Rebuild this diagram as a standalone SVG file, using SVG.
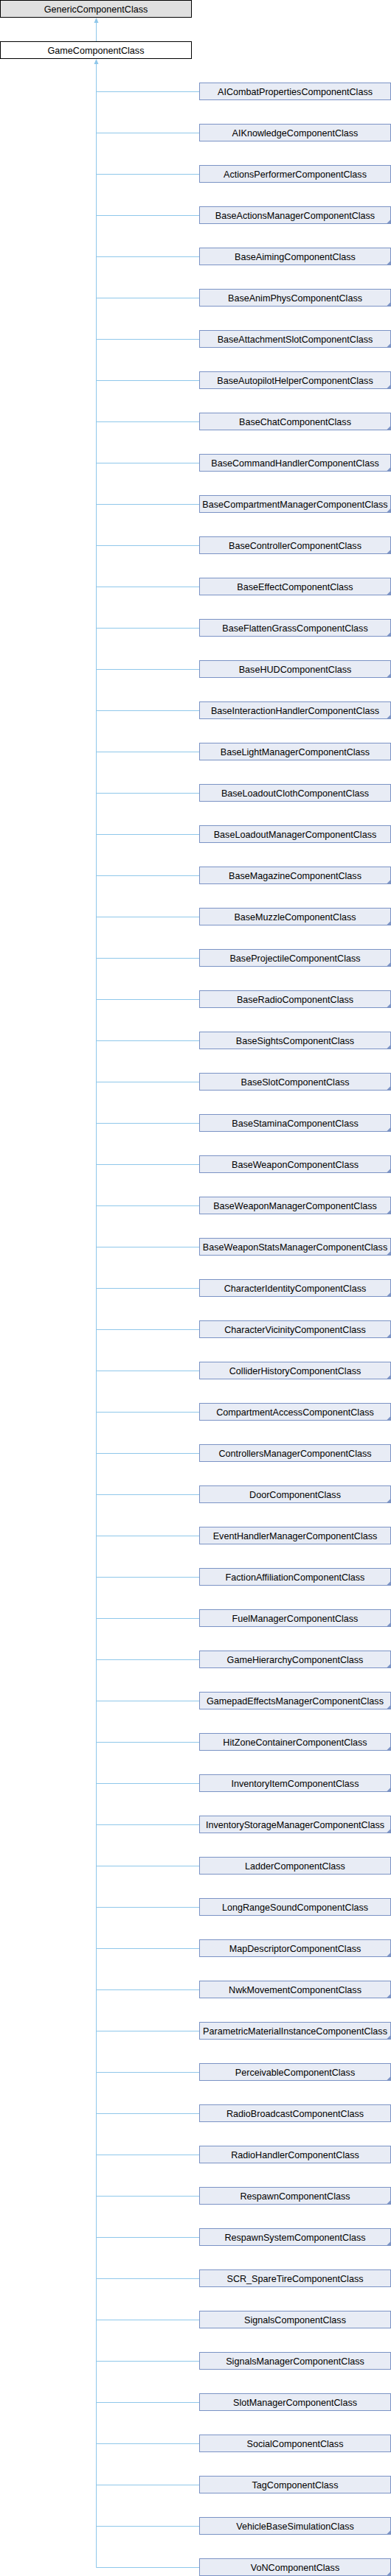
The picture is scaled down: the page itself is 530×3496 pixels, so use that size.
<svg xmlns="http://www.w3.org/2000/svg" width="530" height="3496" viewBox="0 0 530 3496">
<style>
text{font-family:"Liberation Sans",Arial,sans-serif;font-size:12.6px;fill:#000;text-anchor:middle}
.b{fill:#E8ECF5;stroke:#7B93C5;stroke-width:1}
.f{fill:#7B93C5}
.g{fill:#E0E0E0;stroke:#000;stroke-width:1}
.w{fill:#fff;stroke:#000;stroke-width:1}
.e{fill:none;stroke:#8FC7EA;stroke-width:1}
.a{fill:#8FC7EA}
</style>
<rect width="530" height="3496" fill="#fff"/>
<g id="connectors">
<path class="e" d="M130.5 56V26"/>
<polygon class="a" points="130.5,24 127.5,31 133.5,31"/>
<path class="e" d="M130.5 3484.5V82"/>
<polygon class="a" points="130.5,80 127.5,87 133.5,87"/>
<path class="e" d="M130.5 124.5H270"/>
<path class="e" d="M130.5 180.5H270"/>
<path class="e" d="M130.5 236.5H270"/>
<path class="e" d="M130.5 292.5H270"/>
<path class="e" d="M130.5 348.5H270"/>
<path class="e" d="M130.5 404.5H270"/>
<path class="e" d="M130.5 460.5H270"/>
<path class="e" d="M130.5 516.5H270"/>
<path class="e" d="M130.5 572.5H270"/>
<path class="e" d="M130.5 628.5H270"/>
<path class="e" d="M130.5 684.5H270"/>
<path class="e" d="M130.5 740.5H270"/>
<path class="e" d="M130.5 796.5H270"/>
<path class="e" d="M130.5 852.5H270"/>
<path class="e" d="M130.5 908.5H270"/>
<path class="e" d="M130.5 964.5H270"/>
<path class="e" d="M130.5 1020.5H270"/>
<path class="e" d="M130.5 1076.5H270"/>
<path class="e" d="M130.5 1132.5H270"/>
<path class="e" d="M130.5 1188.5H270"/>
<path class="e" d="M130.5 1244.5H270"/>
<path class="e" d="M130.5 1300.5H270"/>
<path class="e" d="M130.5 1356.5H270"/>
<path class="e" d="M130.5 1412.5H270"/>
<path class="e" d="M130.5 1468.5H270"/>
<path class="e" d="M130.5 1524.5H270"/>
<path class="e" d="M130.5 1580.5H270"/>
<path class="e" d="M130.5 1636.5H270"/>
<path class="e" d="M130.5 1692.5H270"/>
<path class="e" d="M130.5 1748.5H270"/>
<path class="e" d="M130.5 1804.5H270"/>
<path class="e" d="M130.5 1860.5H270"/>
<path class="e" d="M130.5 1916.5H270"/>
<path class="e" d="M130.5 1972.5H270"/>
<path class="e" d="M130.5 2028.5H270"/>
<path class="e" d="M130.5 2084.5H270"/>
<path class="e" d="M130.5 2140.5H270"/>
<path class="e" d="M130.5 2196.5H270"/>
<path class="e" d="M130.5 2252.5H270"/>
<path class="e" d="M130.5 2308.5H270"/>
<path class="e" d="M130.5 2364.5H270"/>
<path class="e" d="M130.5 2420.5H270"/>
<path class="e" d="M130.5 2476.5H270"/>
<path class="e" d="M130.5 2532.5H270"/>
<path class="e" d="M130.5 2588.5H270"/>
<path class="e" d="M130.5 2644.5H270"/>
<path class="e" d="M130.5 2700.5H270"/>
<path class="e" d="M130.5 2756.5H270"/>
<path class="e" d="M130.5 2812.5H270"/>
<path class="e" d="M130.5 2868.5H270"/>
<path class="e" d="M130.5 2924.5H270"/>
<path class="e" d="M130.5 2980.5H270"/>
<path class="e" d="M130.5 3036.5H270"/>
<path class="e" d="M130.5 3092.5H270"/>
<path class="e" d="M130.5 3148.5H270"/>
<path class="e" d="M130.5 3204.5H270"/>
<path class="e" d="M130.5 3260.5H270"/>
<path class="e" d="M130.5 3316.5H270"/>
<path class="e" d="M130.5 3372.5H270"/>
<path class="e" d="M130.5 3428.5H270"/>
<path class="e" d="M130.5 3484.5H270"/>
</g>
<g id="GenericComponentClass"><rect class="g" x="0.5" y="0.5" width="259" height="23"/><text x="130" y="16.5">GenericComponentClass</text></g>
<g id="GameComponentClass"><rect class="w" x="0.5" y="56.5" width="259" height="23"/><text x="130" y="72.5">GameComponentClass</text></g>
<g id="AICombatPropertiesComponentClass" transform="translate(0,112)"><rect class="b" x="270.5" y="0.5" width="259" height="23"/><text x="400" y="16.5">AICombatPropertiesComponentClass</text></g>
<g id="AIKnowledgeComponentClass" transform="translate(0,168)"><rect class="b" x="270.5" y="0.5" width="259" height="23"/><text x="400" y="16.5">AIKnowledgeComponentClass</text></g>
<g id="ActionsPerformerComponentClass" transform="translate(0,224)"><rect class="b" x="270.5" y="0.5" width="259" height="23"/><text x="400" y="16.5">ActionsPerformerComponentClass</text></g>
<g id="BaseActionsManagerComponentClass" transform="translate(0,280)"><rect class="b" x="270.5" y="0.5" width="259" height="23"/><text x="400" y="16.5">BaseActionsManagerComponentClass</text><polygon class="f" points="530,17.5 530,24 523.5,24"/></g>
<g id="BaseAimingComponentClass" transform="translate(0,336)"><rect class="b" x="270.5" y="0.5" width="259" height="23"/><text x="400" y="16.5">BaseAimingComponentClass</text><polygon class="f" points="530,17.5 530,24 523.5,24"/></g>
<g id="BaseAnimPhysComponentClass" transform="translate(0,392)"><rect class="b" x="270.5" y="0.5" width="259" height="23"/><text x="400" y="16.5">BaseAnimPhysComponentClass</text><polygon class="f" points="530,17.5 530,24 523.5,24"/></g>
<g id="BaseAttachmentSlotComponentClass" transform="translate(0,448)"><rect class="b" x="270.5" y="0.5" width="259" height="23"/><text x="400" y="16.5">BaseAttachmentSlotComponentClass</text><polygon class="f" points="530,17.5 530,24 523.5,24"/></g>
<g id="BaseAutopilotHelperComponentClass" transform="translate(0,504)"><rect class="b" x="270.5" y="0.5" width="259" height="23"/><text x="400" y="16.5">BaseAutopilotHelperComponentClass</text><polygon class="f" points="530,17.5 530,24 523.5,24"/></g>
<g id="BaseChatComponentClass" transform="translate(0,560)"><rect class="b" x="270.5" y="0.5" width="259" height="23"/><text x="400" y="16.5">BaseChatComponentClass</text><polygon class="f" points="530,17.5 530,24 523.5,24"/></g>
<g id="BaseCommandHandlerComponentClass" transform="translate(0,616)"><rect class="b" x="270.5" y="0.5" width="259" height="23"/><text x="400" y="16.5">BaseCommandHandlerComponentClass</text><polygon class="f" points="530,17.5 530,24 523.5,24"/></g>
<g id="BaseCompartmentManagerComponentClass" transform="translate(0,672)"><rect class="b" x="270.5" y="0.5" width="259" height="23"/><text x="400" y="16.5">BaseCompartmentManagerComponentClass</text><polygon class="f" points="530,17.5 530,24 523.5,24"/></g>
<g id="BaseControllerComponentClass" transform="translate(0,728)"><rect class="b" x="270.5" y="0.5" width="259" height="23"/><text x="400" y="16.5">BaseControllerComponentClass</text><polygon class="f" points="530,17.5 530,24 523.5,24"/></g>
<g id="BaseEffectComponentClass" transform="translate(0,784)"><rect class="b" x="270.5" y="0.5" width="259" height="23"/><text x="400" y="16.5">BaseEffectComponentClass</text><polygon class="f" points="530,17.5 530,24 523.5,24"/></g>
<g id="BaseFlattenGrassComponentClass" transform="translate(0,840)"><rect class="b" x="270.5" y="0.5" width="259" height="23"/><text x="400" y="16.5">BaseFlattenGrassComponentClass</text><polygon class="f" points="530,17.5 530,24 523.5,24"/></g>
<g id="BaseHUDComponentClass" transform="translate(0,896)"><rect class="b" x="270.5" y="0.5" width="259" height="23"/><text x="400" y="16.5">BaseHUDComponentClass</text><polygon class="f" points="530,17.5 530,24 523.5,24"/></g>
<g id="BaseInteractionHandlerComponentClass" transform="translate(0,952)"><rect class="b" x="270.5" y="0.5" width="259" height="23"/><text x="400" y="16.5">BaseInteractionHandlerComponentClass</text><polygon class="f" points="530,17.5 530,24 523.5,24"/></g>
<g id="BaseLightManagerComponentClass" transform="translate(0,1008)"><rect class="b" x="270.5" y="0.5" width="259" height="23"/><text x="400" y="16.5">BaseLightManagerComponentClass</text></g>
<g id="BaseLoadoutClothComponentClass" transform="translate(0,1064)"><rect class="b" x="270.5" y="0.5" width="259" height="23"/><text x="400" y="16.5">BaseLoadoutClothComponentClass</text></g>
<g id="BaseLoadoutManagerComponentClass" transform="translate(0,1120)"><rect class="b" x="270.5" y="0.5" width="259" height="23"/><text x="400" y="16.5">BaseLoadoutManagerComponentClass</text></g>
<g id="BaseMagazineComponentClass" transform="translate(0,1176)"><rect class="b" x="270.5" y="0.5" width="259" height="23"/><text x="400" y="16.5">BaseMagazineComponentClass</text><polygon class="f" points="530,17.5 530,24 523.5,24"/></g>
<g id="BaseMuzzleComponentClass" transform="translate(0,1232)"><rect class="b" x="270.5" y="0.5" width="259" height="23"/><text x="400" y="16.5">BaseMuzzleComponentClass</text><polygon class="f" points="530,17.5 530,24 523.5,24"/></g>
<g id="BaseProjectileComponentClass" transform="translate(0,1288)"><rect class="b" x="270.5" y="0.5" width="259" height="23"/><text x="400" y="16.5">BaseProjectileComponentClass</text><polygon class="f" points="530,17.5 530,24 523.5,24"/></g>
<g id="BaseRadioComponentClass" transform="translate(0,1344)"><rect class="b" x="270.5" y="0.5" width="259" height="23"/><text x="400" y="16.5">BaseRadioComponentClass</text><polygon class="f" points="530,17.5 530,24 523.5,24"/></g>
<g id="BaseSightsComponentClass" transform="translate(0,1400)"><rect class="b" x="270.5" y="0.5" width="259" height="23"/><text x="400" y="16.5">BaseSightsComponentClass</text><polygon class="f" points="530,17.5 530,24 523.5,24"/></g>
<g id="BaseSlotComponentClass" transform="translate(0,1456)"><rect class="b" x="270.5" y="0.5" width="259" height="23"/><text x="400" y="16.5">BaseSlotComponentClass</text><polygon class="f" points="530,17.5 530,24 523.5,24"/></g>
<g id="BaseStaminaComponentClass" transform="translate(0,1512)"><rect class="b" x="270.5" y="0.5" width="259" height="23"/><text x="400" y="16.5">BaseStaminaComponentClass</text><polygon class="f" points="530,17.5 530,24 523.5,24"/></g>
<g id="BaseWeaponComponentClass" transform="translate(0,1568)"><rect class="b" x="270.5" y="0.5" width="259" height="23"/><text x="400" y="16.5">BaseWeaponComponentClass</text><polygon class="f" points="530,17.5 530,24 523.5,24"/></g>
<g id="BaseWeaponManagerComponentClass" transform="translate(0,1624)"><rect class="b" x="270.5" y="0.5" width="259" height="23"/><text x="400" y="16.5">BaseWeaponManagerComponentClass</text><polygon class="f" points="530,17.5 530,24 523.5,24"/></g>
<g id="BaseWeaponStatsManagerComponentClass" transform="translate(0,1680)"><rect class="b" x="270.5" y="0.5" width="259" height="23"/><text x="400" y="16.5">BaseWeaponStatsManagerComponentClass</text><polygon class="f" points="530,17.5 530,24 523.5,24"/></g>
<g id="CharacterIdentityComponentClass" transform="translate(0,1736)"><rect class="b" x="270.5" y="0.5" width="259" height="23"/><text x="400" y="16.5">CharacterIdentityComponentClass</text><polygon class="f" points="530,17.5 530,24 523.5,24"/></g>
<g id="CharacterVicinityComponentClass" transform="translate(0,1792)"><rect class="b" x="270.5" y="0.5" width="259" height="23"/><text x="400" y="16.5">CharacterVicinityComponentClass</text><polygon class="f" points="530,17.5 530,24 523.5,24"/></g>
<g id="ColliderHistoryComponentClass" transform="translate(0,1848)"><rect class="b" x="270.5" y="0.5" width="259" height="23"/><text x="400" y="16.5">ColliderHistoryComponentClass</text><polygon class="f" points="530,17.5 530,24 523.5,24"/></g>
<g id="CompartmentAccessComponentClass" transform="translate(0,1904)"><rect class="b" x="270.5" y="0.5" width="259" height="23"/><text x="400" y="16.5">CompartmentAccessComponentClass</text><polygon class="f" points="530,17.5 530,24 523.5,24"/></g>
<g id="ControllersManagerComponentClass" transform="translate(0,1960)"><rect class="b" x="270.5" y="0.5" width="259" height="23"/><text x="400" y="16.5">ControllersManagerComponentClass</text></g>
<g id="DoorComponentClass" transform="translate(0,2016)"><rect class="b" x="270.5" y="0.5" width="259" height="23"/><text x="400" y="16.5">DoorComponentClass</text><polygon class="f" points="530,17.5 530,24 523.5,24"/></g>
<g id="EventHandlerManagerComponentClass" transform="translate(0,2072)"><rect class="b" x="270.5" y="0.5" width="259" height="23"/><text x="400" y="16.5">EventHandlerManagerComponentClass</text></g>
<g id="FactionAffiliationComponentClass" transform="translate(0,2128)"><rect class="b" x="270.5" y="0.5" width="259" height="23"/><text x="400" y="16.5">FactionAffiliationComponentClass</text><polygon class="f" points="530,17.5 530,24 523.5,24"/></g>
<g id="FuelManagerComponentClass" transform="translate(0,2184)"><rect class="b" x="270.5" y="0.5" width="259" height="23"/><text x="400" y="16.5">FuelManagerComponentClass</text><polygon class="f" points="530,17.5 530,24 523.5,24"/></g>
<g id="GameHierarchyComponentClass" transform="translate(0,2240)"><rect class="b" x="270.5" y="0.5" width="259" height="23"/><text x="400" y="16.5">GameHierarchyComponentClass</text><polygon class="f" points="530,17.5 530,24 523.5,24"/></g>
<g id="GamepadEffectsManagerComponentClass" transform="translate(0,2296)"><rect class="b" x="270.5" y="0.5" width="259" height="23"/><text x="400" y="16.5">GamepadEffectsManagerComponentClass</text><polygon class="f" points="530,17.5 530,24 523.5,24"/></g>
<g id="HitZoneContainerComponentClass" transform="translate(0,2352)"><rect class="b" x="270.5" y="0.5" width="259" height="23"/><text x="400" y="16.5">HitZoneContainerComponentClass</text><polygon class="f" points="530,17.5 530,24 523.5,24"/></g>
<g id="InventoryItemComponentClass" transform="translate(0,2408)"><rect class="b" x="270.5" y="0.5" width="259" height="23"/><text x="400" y="16.5">InventoryItemComponentClass</text><polygon class="f" points="530,17.5 530,24 523.5,24"/></g>
<g id="InventoryStorageManagerComponentClass" transform="translate(0,2464)"><rect class="b" x="270.5" y="0.5" width="259" height="23"/><text x="400" y="16.5">InventoryStorageManagerComponentClass</text><polygon class="f" points="530,17.5 530,24 523.5,24"/></g>
<g id="LadderComponentClass" transform="translate(0,2520)"><rect class="b" x="270.5" y="0.5" width="259" height="23"/><text x="400" y="16.5">LadderComponentClass</text></g>
<g id="LongRangeSoundComponentClass" transform="translate(0,2576)"><rect class="b" x="270.5" y="0.5" width="259" height="23"/><text x="400" y="16.5">LongRangeSoundComponentClass</text></g>
<g id="MapDescriptorComponentClass" transform="translate(0,2632)"><rect class="b" x="270.5" y="0.5" width="259" height="23"/><text x="400" y="16.5">MapDescriptorComponentClass</text><polygon class="f" points="530,17.5 530,24 523.5,24"/></g>
<g id="NwkMovementComponentClass" transform="translate(0,2688)"><rect class="b" x="270.5" y="0.5" width="259" height="23"/><text x="400" y="16.5">NwkMovementComponentClass</text><polygon class="f" points="530,17.5 530,24 523.5,24"/></g>
<g id="ParametricMaterialInstanceComponentClass" transform="translate(0,2744)"><rect class="b" x="270.5" y="0.5" width="259" height="23"/><text x="400" y="16.5">ParametricMaterialInstanceComponentClass</text><polygon class="f" points="530,17.5 530,24 523.5,24"/></g>
<g id="PerceivableComponentClass" transform="translate(0,2800)"><rect class="b" x="270.5" y="0.5" width="259" height="23"/><text x="400" y="16.5">PerceivableComponentClass</text><polygon class="f" points="530,17.5 530,24 523.5,24"/></g>
<g id="RadioBroadcastComponentClass" transform="translate(0,2856)"><rect class="b" x="270.5" y="0.5" width="259" height="23"/><text x="400" y="16.5">RadioBroadcastComponentClass</text></g>
<g id="RadioHandlerComponentClass" transform="translate(0,2912)"><rect class="b" x="270.5" y="0.5" width="259" height="23"/><text x="400" y="16.5">RadioHandlerComponentClass</text></g>
<g id="RespawnComponentClass" transform="translate(0,2968)"><rect class="b" x="270.5" y="0.5" width="259" height="23"/><text x="400" y="16.5">RespawnComponentClass</text><polygon class="f" points="530,17.5 530,24 523.5,24"/></g>
<g id="RespawnSystemComponentClass" transform="translate(0,3024)"><rect class="b" x="270.5" y="0.5" width="259" height="23"/><text x="400" y="16.5">RespawnSystemComponentClass</text><polygon class="f" points="530,17.5 530,24 523.5,24"/></g>
<g id="SCR_SpareTireComponentClass" transform="translate(0,3080)"><rect class="b" x="270.5" y="0.5" width="259" height="23"/><text x="400" y="16.5">SCR_SpareTireComponentClass</text></g>
<g id="SignalsComponentClass" transform="translate(0,3136)"><rect class="b" x="270.5" y="0.5" width="259" height="23"/><text x="400" y="16.5">SignalsComponentClass</text></g>
<g id="SignalsManagerComponentClass" transform="translate(0,3192)"><rect class="b" x="270.5" y="0.5" width="259" height="23"/><text x="400" y="16.5">SignalsManagerComponentClass</text></g>
<g id="SlotManagerComponentClass" transform="translate(0,3248)"><rect class="b" x="270.5" y="0.5" width="259" height="23"/><text x="400" y="16.5">SlotManagerComponentClass</text></g>
<g id="SocialComponentClass" transform="translate(0,3304)"><rect class="b" x="270.5" y="0.5" width="259" height="23"/><text x="400" y="16.5">SocialComponentClass</text></g>
<g id="TagComponentClass" transform="translate(0,3360)"><rect class="b" x="270.5" y="0.5" width="259" height="23"/><text x="400" y="16.5">TagComponentClass</text></g>
<g id="VehicleBaseSimulationClass" transform="translate(0,3416)"><rect class="b" x="270.5" y="0.5" width="259" height="23"/><text x="400" y="16.5">VehicleBaseSimulationClass</text><polygon class="f" points="530,17.5 530,24 523.5,24"/></g>
<g id="VoNComponentClass" transform="translate(0,3472)"><rect class="b" x="270.5" y="0.5" width="259" height="23"/><text x="400" y="16.5">VoNComponentClass</text><polygon class="f" points="530,17.5 530,24 523.5,24"/></g>
</svg>
